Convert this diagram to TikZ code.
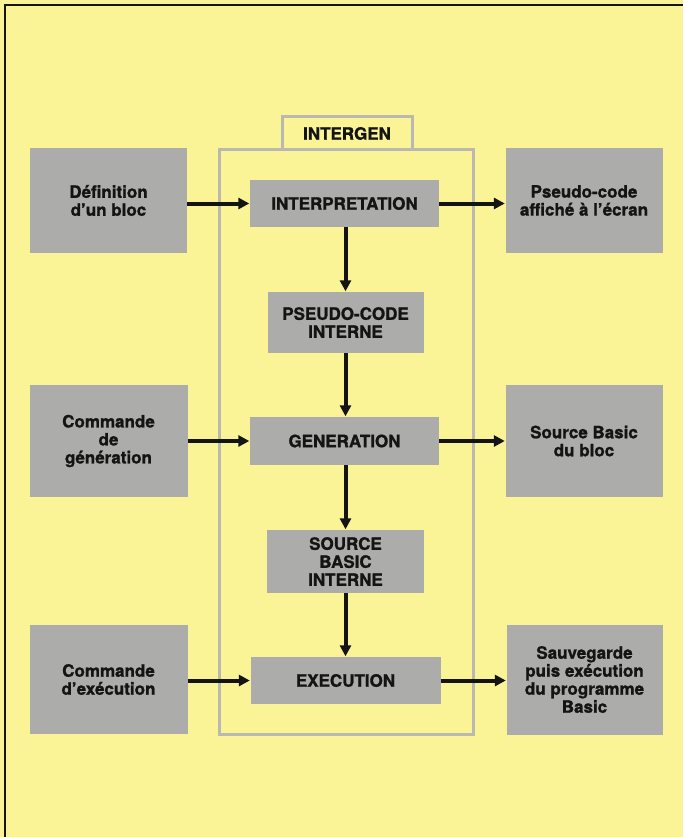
\documentclass[tikz,border=0pt]{standalone}
\usepackage{fontspec}
\setmainfont[BoldFeatures={FakeBold=1.2}]{TeX Gyre Heros}
\usetikzlibrary{arrows.meta}
\definecolor{bgyellow}{RGB}{250,244,150}
\definecolor{boxgray}{RGB}{172,172,170}
\definecolor{framegray}{RGB}{185,185,178}
\definecolor{inkblack}{RGB}{20,20,20}
\tikzset{
  blk/.style={fill=boxgray, draw=none, align=center, font=\bfseries\fontsize{17}{18}\selectfont, text=inkblack, inner sep=0pt},
  flow/.style={draw=inkblack, line width=4pt, -{Triangle[length=11pt,width=11pt]}, shorten >=0.5pt},
  frameline/.style={draw=framegray, line width=3pt},
}
\begin{document}
\begin{tikzpicture}[x=1pt,y=-1pt]
\useasboundingbox (0,0) rectangle (683,837);
\fill[bgyellow] (0,0) rectangle (683,837);
\draw[inkblack, line width=2.5pt] (5,837) -- (5,5) -- (683,5);
% INTERGEN frame
\draw[frameline] (219,150) rectangle (473,734);
\node[frameline, fill=bgyellow, minimum width=130pt, minimum height=33pt, inner sep=0pt,
      font=\bfseries\fontsize{17}{18}\selectfont, text=inkblack] (tab) at (347,133.5) {INTERGEN};
% left boxes
\node[blk, minimum width=157pt, minimum height=105pt] (d1) at (108.5,200.5) {Définition\\d’un bloc};
\node[blk, minimum width=158pt, minimum height=112pt] (d2) at (108.5,441) {Commande\\de\\génération};
\node[blk, minimum width=158pt, minimum height=109pt] (d3) at (108.5,679.5) {Commande\\d’exécution};
% right boxes
\node[blk, minimum width=157pt, minimum height=105pt] (r1) at (584,200.5) {Pseudo-code\\affiché à l’écran};
\node[blk, minimum width=157pt, minimum height=112pt] (r2) at (584,441) {Source Basic\\du bloc};
\node[blk, minimum width=156pt, minimum height=110pt] (r3) at (584.5,679.5) {Sauvegarde\\puis exécution\\du programme\\Basic};
% middle boxes
\node[blk, minimum width=189pt, minimum height=47pt] (m1) at (344.5,203.5) {INTERPRETATION};
\node[blk, minimum width=156pt, minimum height=61pt] (m2) at (345.5,322.5) {PSEUDO-CODE\\INTERNE};
\node[blk, minimum width=189pt, minimum height=48pt] (m3) at (344.5,441) {GENERATION};
\node[blk, minimum width=157pt, minimum height=63pt] (m4) at (345.5,561.5) {SOURCE\\BASIC\\INTERNE};
\node[blk, minimum width=190pt, minimum height=47pt] (m5) at (345.5,680.5) {EXECUTION};
% arrows
\draw[flow] (d1.east |- m1.west) -- (m1.west);
\draw[flow] (m1.east) -- (r1.west |- m1.east);
\draw[flow] (d2.east |- m3.west) -- (m3.west);
\draw[flow] (m3.east) -- (r2.west |- m3.east);
\draw[flow] (d3.east |- m5.west) -- (m5.west);
\draw[flow] (m5.east) -- (r3.west |- m5.east);
\draw[flow] (m1.south -| m2.north) -- (m2.north);
\draw[flow] (m2.south) -- (m3.north -| m2.south);
\draw[flow] (m3.south -| m4.north) -- (m4.north);
\draw[flow] (m4.south) -- (m5.north -| m4.south);
\end{tikzpicture}
\end{document}
